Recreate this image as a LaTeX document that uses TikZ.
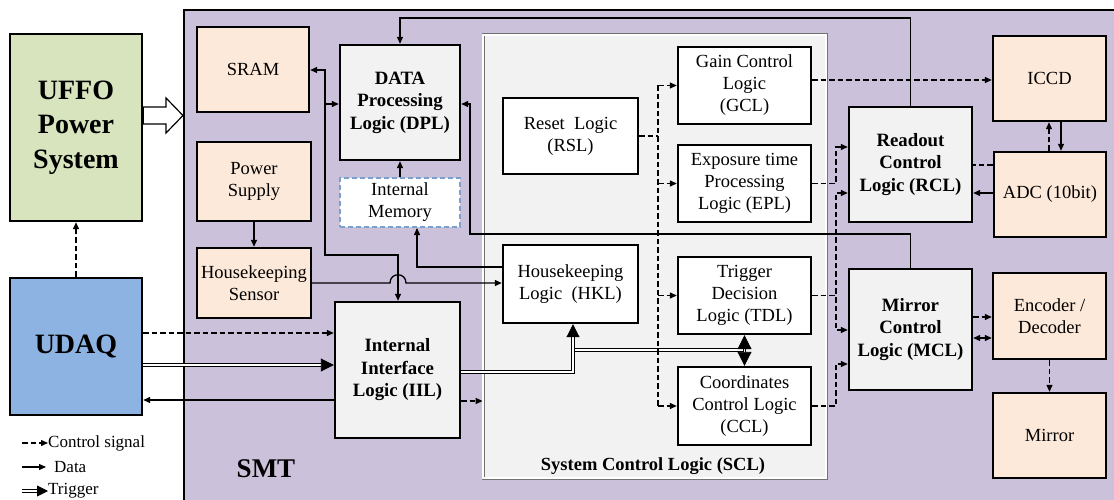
\documentclass[tikz,border=0pt]{standalone}
\usepackage{fontspec}
\setmainfont{Liberation Serif}
\usetikzlibrary{arrows.meta,calc}
\definecolor{smtc}{HTML}{CCC1DA}
\definecolor{peachc}{HTML}{FDE9D9}
\definecolor{grayc}{HTML}{F2F2F2}
\definecolor{greenc}{HTML}{D7E4BD}
\definecolor{bluec}{HTML}{8DB3E2}
\definecolor{imc}{HTML}{7BA0CD}
\begin{document}
\begin{tikzpicture}[x=1pt,y=-1pt,
  box/.style={draw, line width=2.4pt, align=center, inner sep=0pt, font=\fontsize{18.5}{22}\selectfont},
  peach/.style={box, fill=peachc},
  gbox/.style={box, fill=grayc, font=\fontsize{18.8}{22.5}\selectfont\bfseries},
  wbox/.style={box, fill=white},
  ctrl/.style={line width=1.3pt, dash pattern=on 5.5pt off 3pt, -{Triangle[length=7pt,width=6pt]}},
  ctrlline/.style={line width=1.3pt, dash pattern=on 5.5pt off 3pt},
  data/.style={line width=1.3pt, -{Triangle[length=7pt,width=6pt]}},
  trig/.style={double, double distance=1.6pt, line width=0.9pt, -{Triangle[length=13pt,width=13pt]}},
  trigline/.style={double, double distance=1.6pt, line width=0.9pt},
  legtext/.style={anchor=west, inner sep=0pt, font=\fontsize{17}{20}\selectfont}
]
\useasboundingbox (0,0) rectangle (1114,500);
\clip (0,0) rectangle (1114,500);

% outer blocks
\node[draw, line width=2pt, fill=smtc, minimum width=960, minimum height=520, anchor=north west] (smt) at (183,9) {};
\node[box, fill=greenc, minimum width=132, minimum height=187, font=\fontsize{28}{34.5}\selectfont\bfseries] (ufo) at (76,127.5) {UFFO\\Power\\System};
\node[box, fill=bluec, minimum width=132, minimum height=137, font=\fontsize{28}{34}\selectfont\bfseries] (udaq) at (76,346.5) {UDAQ};
\node[font=\fontsize{27}{30}\selectfont\bfseries, inner sep=0pt] (smtlab) at (266,469) {SMT};

% SCL container
\node[draw=black!55, line width=0.8pt, double=white, double distance=1.4pt, fill=grayc, minimum width=343, minimum height=443] (scl) at (654.5,256.5) {};
\node[font=\fontsize{18.5}{20}\selectfont\bfseries, inner sep=0pt] (scllab) at (653,466) {System Control Logic (SCL)};

% left column
\node[peach, minimum width=112, minimum height=85] (sram) at (253,69.5) {SRAM};
\node[peach, minimum width=114, minimum height=79] (ps) at (254,181.5) {Power\\Supply};
\node[peach, minimum width=114, minimum height=70] (hks) at (254,283) {Housekeeping\\Sensor};

\node[gbox, minimum width=120, minimum height=115] (dpl) at (400,102.5) {DATA\\Processing\\Logic (DPL)};
\node[box, draw=imc, line width=2pt, dash pattern=on 5pt off 3pt, fill=white, minimum width=120, minimum height=49] (im) at (400,202.5) {Internal\\Memory};
\node[gbox, minimum width=125, minimum height=136] (iil) at (397.5,370) {Internal\\Interface\\Logic (IIL)};

% SCL inner
\node[wbox, minimum width=135, minimum height=76] (rsl) at (570.5,136) {Reset~ Logic\\(RSL)};
\node[wbox, minimum width=135, minimum height=78] (hkl) at (570.5,284) {Housekeeping\\Logic~ (HKL)};
\node[wbox, minimum width=133, minimum height=77] (gcl) at (744.5,85.5) {Gain Control\\Logic\\(GCL)};
\node[wbox, minimum width=133, minimum height=77] (epl) at (744.5,183.5) {Exposure time\\Processing\\Logic (EPL)};
\node[wbox, minimum width=133, minimum height=77] (tdl) at (744.5,295.5) {Trigger\\Decision\\Logic (TDL)};
\node[wbox, minimum width=133, minimum height=78] (ccl) at (744.5,406) {Coordinates\\Control Logic\\(CCL)};

% right
\node[gbox, minimum width=123, minimum height=115] (rcl) at (910.5,164.5) {Readout\\Control\\Logic (RCL)};
\node[gbox, minimum width=123, minimum height=121] (mcl) at (910.5,329.5) {Mirror\\Control\\Logic (MCL)};
\node[peach, minimum width=113, minimum height=85] (iccd) at (1049.5,78.5) {ICCD};
\node[peach, minimum width=112, minimum height=85] (adc) at (1050,194.5) {ADC (10bit)};
\node[peach, minimum width=113, minimum height=86] (enc) at (1049.5,316) {Encoder /\\Decoder};
\node[peach, minimum width=113, minimum height=85] (mirror) at (1049.5,435.5) {Mirror};

% hollow power arrow
\draw[line width=1.2pt, fill=white] (ufo.east|-0,107) -- (166,107) -- (166,98) -- (smt.west|-0,115.5) -- (166,133) -- (166,124) -- (ufo.east|-0,124) -- cycle;

% UDAQ links
\draw[ctrl] (udaq.north) -- (ufo.south);
\draw[ctrl] (udaq.east|-0,333) -- (iil.west|-0,333);
\draw[trig] (udaq.east|-0,365) -- (iil.west|-0,365);
\draw[data] (iil.west|-0,400) -- (udaq.east|-0,400);
\draw[ctrl] (iil.east|-0,401) -- (scl.west|-0,401);

% trigger paths
\draw[trigline] (573,350) -- (745,350);
\draw[trig] (iil.east|-0,372) -- (573,372) -- (hkl.south -| 573,0);
\draw[trigline, {Triangle[length=14pt,width=14pt]}-{Triangle[length=14pt,width=14pt]}] (tdl.south) -- (ccl.north);

% power / housekeeping
\draw[data] (ps.south) -- (hks.north);
\draw[data] (hks.east|-0,283) -- (390,283) .. controls (390,272) and (406,272) .. (406,283) -- (hkl.west|-0,283);

% IIL bus to SRAM / DPL
\draw[data] (398,255) -- (325,255) -- (325,70) -- (sram.east|-0,70);
\draw[data] (325,104) -- (dpl.west|-0,104);
\draw[data] (325,255) -- (398,255) -- (iil.north -| 398,0);

\draw[data] (im.north) -- (dpl.south);
\draw[data] (hkl.west|-0,267) -| (im.south -| 417,0);

% MCL -> DPL, RCL -> DPL
\draw[data] (mcl.north) |- (470,234) |- (dpl.east|-0,104);
\draw[data] (rcl.north) |- (dpl.north|-0,18) -- (dpl.north);

% reset logic control
\draw[ctrlline] (rsl.east) -- (658,136);
\draw[ctrlline] (gcl.west -| 658,0) -- (ccl.west -| 658,0);
\draw[ctrl] (gcl.west -| 658,0) -- (gcl.west);
\draw[ctrl] (epl.west -| 658,0) -- (epl.west);
\draw[ctrl] (tdl.west -| 658,0) -- (tdl.west);
\draw[ctrl] (ccl.west -| 658,0) -- (ccl.west);

% SCL outputs
\draw[ctrl] (gcl.east|-0,80) -- (iccd.west|-0,80);
\draw[ctrl] (epl.east) -| (836,147) -- (rcl.west|-0,147);
\draw[ctrl] (tdl.east) -| (836,193) -- (rcl.west|-0,193);
\draw[ctrl] (tdl.east) -| (836,330) -- (mcl.west|-0,330);
\draw[ctrl] (ccl.east) -| (836,364) -- (mcl.west|-0,364);

% right side
\draw[ctrlline] (adc.west|-0,165) -- (rcl.east|-0,165);
\draw[data] (adc.west|-0,193) -- (rcl.east|-0,193);
\draw[ctrl] (adc.north -| 1049,0) -- (iccd.south -| 1049,0);
\draw[data] (iccd.south -| 1061,0) -- (adc.north -| 1061,0);
\draw[ctrl] (mcl.east|-0,317) -- (enc.west|-0,317);
\draw[data, {Triangle[length=7pt,width=6pt]}-{Triangle[length=7pt,width=6pt]}] (mcl.east|-0,338) -- (enc.west|-0,338);
\draw[ctrl] (enc.south) -- (mirror.north);

% legend
\coordinate (la) at (22,443);
\coordinate (lb) at (22,467);
\coordinate (lc) at (22,491);
\node[legtext] (l1) at (48,443) {Control signal};
\node[legtext] (l2) at (54,467) {Data};
\node[legtext] (l3) at (48,491) {Trigger};
\draw[ctrl] (la) -- (l1.west);
\draw[data] (lb) -- ($(l2.west)+(-8,0)$);
\draw[trig, -{Triangle[length=11pt,width=11pt]}] (lc) -- (l3.west);
\end{tikzpicture}
\end{document}
